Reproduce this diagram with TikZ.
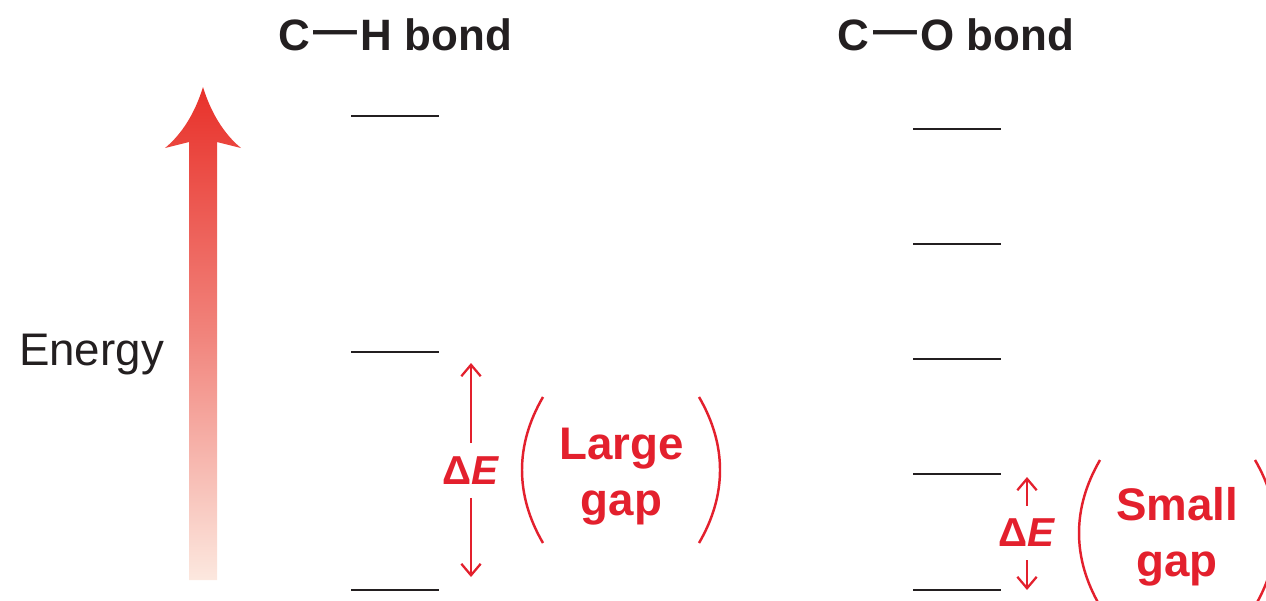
\documentclass[tikz,border=0pt]{standalone}
\usepackage{fontspec}
\setmainfont{Liberation Sans}
\usetikzlibrary{arrows.meta}
\definecolor{gapred}{HTML}{E3202D}
\definecolor{inkgray}{HTML}{231F20}
\definecolor{arrowtop}{HTML}{E8312A}
\definecolor{arrowbot}{HTML}{FCE8DF}
\begin{document}
\begin{tikzpicture}[x=0.02cm,y=-0.02cm]
\tikzstyle{level}=[minimum width=1.74cm, inner sep=0pt]
\tikzstyle{levelline}=[line width=1.5pt, inkgray]
\tikzstyle{title}=[text=inkgray, font=\fontsize{25}{30}\selectfont\bfseries, anchor=base]
\tikzstyle{delta}=[text=gapred, font=\fontsize{23}{28}\selectfont\bfseries, inner xsep=0pt, inner ysep=7.5pt]
\tikzstyle{gaptext}=[text=gapred, font=\fontsize{26}{32}\selectfont\bfseries, align=center, inner sep=0pt]
\tikzstyle{dearrow}=[draw=gapred, line width=1.3pt, -{Straight Barb[length=6.5pt,width=11pt]}]
\tikzstyle{paren}=[draw=gapred, line width=1.4pt]
    \useasboundingbox (0,0) rectangle (1266,600);
    \clip (0,0) rectangle (1266,600);

    % energy arrow
    \shade[top color=arrowtop, bottom color=arrowbot, middle color=arrowtop!55!arrowbot]
        (203,87) .. controls (211,113) and (224,134) .. (241,148) -- (217,142)
        -- (217,580) -- (189,580) -- (189,142) -- (165,148)
        .. controls (182,134) and (195,113) .. (203,87) -- cycle;
    \node[text=inkgray, font=\fontsize{26}{31}\selectfont, anchor=base] (energy) at (91.5,365) {Energy};

    % C-H bond
    \node[title] (ch) at (395,50) {C\kern0.08em\raisebox{0.12em}{—}\kern0.08em H bond};
    \node[level] (h1) at (395,116) {};
    \node[level] (h2) at (395,352) {};
    \node[level] (h3) at (395,590) {};
    \draw[levelline] (h1.west) -- (h1.east);
    \draw[levelline] (h2.west) -- (h2.east);
    \draw[levelline] (h3.west) -- (h3.east);

    \node[delta] (d1) at (471,470.5) {Δ\textit{E}};
    \coordinate (d1t) at (471,363);
    \coordinate (d1b) at (471,577);
    \draw[dearrow] (d1.north) -- (d1t);
    \draw[dearrow] (d1.south) -- (d1b);
    \node[gaptext] (large) at (621.5,476.5) {Large\\gap};
    \draw[paren] (543,397) .. controls (515,445) and (515,495) .. (543,543);
    \draw[paren] (699,397) .. controls (727,445) and (727,495) .. (699,543);

    % C-O bond
    \node[title] (co) at (956,50) {C\kern0.08em\raisebox{0.12em}{—}\kern0.08em O bond};
    \node[level] (o1) at (957,129) {};
    \node[level] (o2) at (957,244) {};
    \node[level] (o3) at (957,359) {};
    \node[level] (o4) at (957,474) {};
    \node[level] (o5) at (957,590) {};
    \draw[levelline] (o1.west) -- (o1.east);
    \draw[levelline] (o2.west) -- (o2.east);
    \draw[levelline] (o3.west) -- (o3.east);
    \draw[levelline] (o4.west) -- (o4.east);
    \draw[levelline] (o5.west) -- (o5.east);

    \node[delta] (d2) at (1027,533) {Δ\textit{E}};
    \coordinate (d2t) at (1027,477);
    \coordinate (d2b) at (1027,590);
    \draw[dearrow] (d2.north) -- (d2t);
    \draw[dearrow] (d2.south) -- (d2b);
    \node[gaptext] (small) at (1177,537) {Small\\gap};
    \draw[paren] (1100,460) .. controls (1072,508) and (1072,558) .. (1100,606);
    \draw[paren] (1255,460) .. controls (1283,508) and (1283,558) .. (1255,606);
\end{tikzpicture}
\end{document}
